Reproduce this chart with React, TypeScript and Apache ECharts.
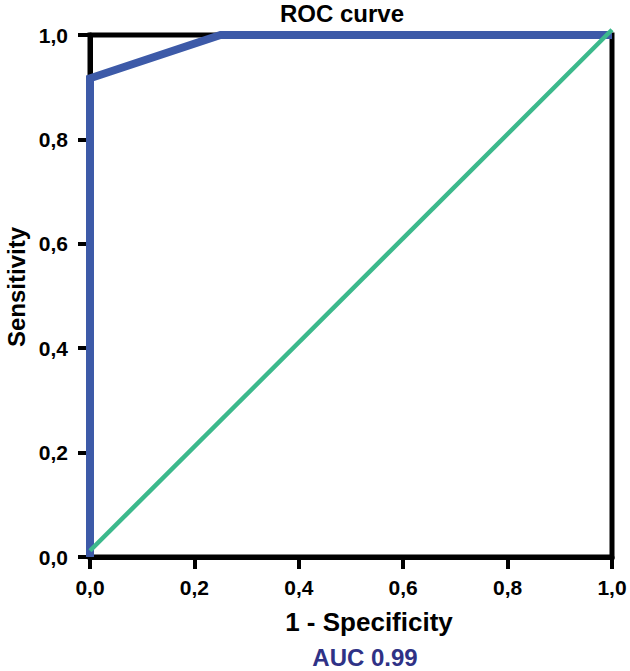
import React, { useEffect, useRef } from "react";
import * as echarts from "echarts";

const rocX = [0, 0, 0.25, 1];
const rocY = [0, 0.917, 1, 1];
const refX = [0, 1];
const refY = [0.012, 1.01];
const titleText = "ROC curve";
const xName = "1 - Specificity";
const yName = "Sensitivity";
const aucText = "AUC 0.99";

const FONT = '"Liberation Sans", Arial, Helvetica, sans-serif';

export default function App() {
  const ref = useRef<HTMLDivElement>(null);
  useEffect(() => {
    if (!ref.current) return;
    const chart = echarts.init(ref.current, null, { renderer: "svg" });
    const fmt = (v: number) => v.toFixed(1).replace(".", ",");
    chart.setOption({
      animation: false,
      backgroundColor: "#fff",
      grid: {
        left: 90,
        right: 18,
        top: 35,
        bottom: 114,
        show: true,
        borderColor: "#000",
        borderWidth: 5,
        backgroundColor: "transparent",
        outerBoundsMode: "none",
      },
      xAxis: {
        type: "value",
        min: 0,
        max: 1,
        interval: 0.2,
        splitLine: { show: false },
        axisLine: { show: true, lineStyle: { color: "#000", width: 5 } },
        axisTick: { show: true, length: 12, lineStyle: { color: "#000", width: 4 } },
        axisLabel: {
          formatter: fmt,
          color: "#000",
          fontSize: 21,
          fontWeight: "bold",
          fontFamily: FONT,
          margin: 20,
        },
      },
      yAxis: {
        type: "value",
        min: 0,
        max: 1,
        interval: 0.2,
        splitLine: { show: false },
        axisLine: { show: true, lineStyle: { color: "#000", width: 5 } },
        axisTick: { show: true, length: 12, lineStyle: { color: "#000", width: 4 } },
        axisLabel: {
          formatter: fmt,
          color: "#000",
          fontSize: 21,
          fontWeight: "bold",
          fontFamily: FONT,
          margin: 22,
        },
      },
      graphic: [
        {
          type: "text",
          x: 342,
          y: 13,
          style: {
            text: titleText,
            fill: "#000",
            fontSize: 24,
            fontWeight: "bold",
            fontFamily: FONT,
            align: "center",
            verticalAlign: "middle",
          },
        },
        {
          type: "text",
          x: 16,
          y: 287,
          rotation: Math.PI / 2,
          style: {
            text: yName,
            fill: "#000",
            fontSize: 24,
            fontWeight: "bold",
            fontFamily: FONT,
            align: "center",
            verticalAlign: "middle",
          },
        },
        {
          type: "text",
          x: 369,
          y: 622,
          style: {
            text: xName,
            fill: "#000",
            fontSize: 26,
            fontWeight: "bold",
            fontFamily: FONT,
            align: "center",
            verticalAlign: "middle",
          },
        },
        {
          type: "text",
          x: 365,
          y: 657,
          style: {
            text: aucText,
            fill: "#2f3286",
            fontSize: 24,
            fontWeight: "bold",
            fontFamily: FONT,
            align: "center",
            verticalAlign: "middle",
          },
        },
      ],
      series: [
        {
          type: "line",
          data: rocX.map((x, i) => [x, rocY[i]]),
          symbol: "none",
          clip: false,
          lineStyle: { color: "#3d5aa8", width: 8, join: "miter" },
          z: 3,
        },
        {
          type: "line",
          data: refX.map((x, i) => [x, refY[i]]),
          symbol: "none",
          clip: false,
          lineStyle: { color: "#3cb98c", width: 4.5 },
          z: 4,
        },
      ],
    });
    return () => chart.dispose();
  }, []);
  return (
    <div
      ref={ref}
      style={{ position: "fixed", left: 0, top: 0, width: 630, height: 671 }}
    />
  );
}
